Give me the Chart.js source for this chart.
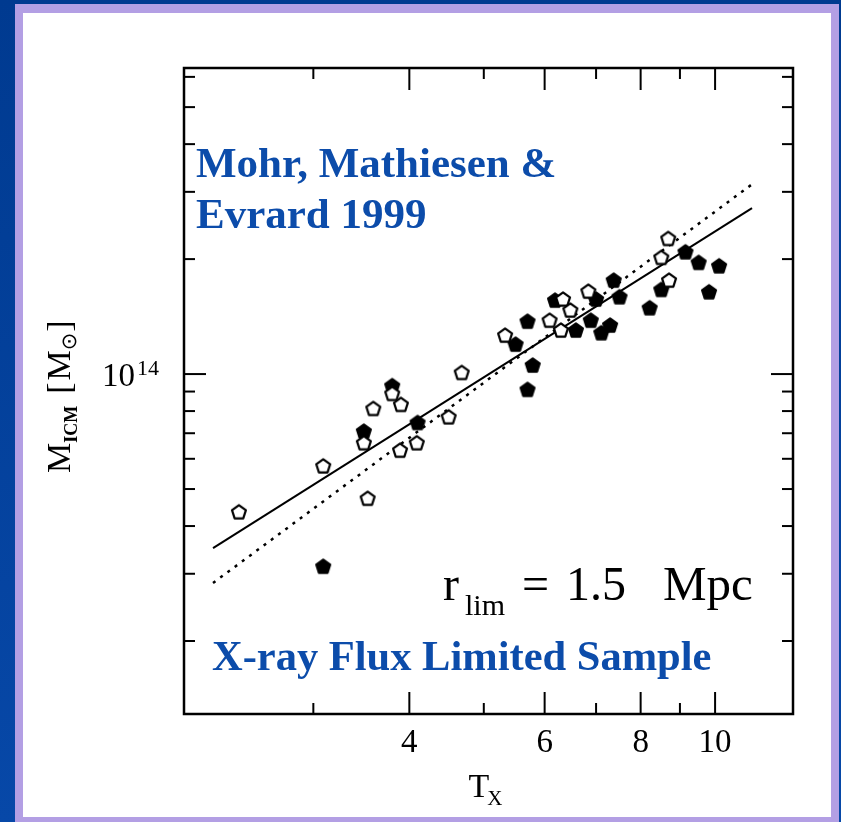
<!DOCTYPE html>
<html><head><meta charset="utf-8">
<script src="https://cdn.jsdelivr.net/npm/chart.js@4.4.0/dist/chart.umd.min.js"></script>
<style>
html,body{margin:0;padding:0;width:841px;height:822px;overflow:hidden;}
body{background:linear-gradient(180deg,#003a90 0%,#0748a8 100%);position:relative;}
#frame{position:absolute;left:15px;top:4px;width:808px;height:804px;background:#fff;border-style:solid;border-color:#b39fe4;border-width:9px 8px 5px 8px;}
#c{position:absolute;left:0;top:0;}
</style></head>
<body>
<div id="frame"></div>
<canvas id="c" width="841" height="822"></canvas>
<script>
// ---- data (T_X in keV, M_ICM in solar masses) ----
const openT  = [2.40, 3.09, 3.53, 3.49, 3.59, 3.80, 3.90, 3.89, 4.09, 4.50, 4.68, 5.33, 6.09, 6.30, 6.34, 6.48, 6.84, 8.71, 8.51, 8.69];
const openM  = [4.36e13, 5.75e13, 4.73e13, 6.61e13, 8.13e13, 8.90e13, 8.33e13, 6.32e13, 6.61e13, 7.73e13, 1.01e14, 1.265e14, 1.384e14, 1.304e14, 1.572e14, 1.471e14, 1.649e14, 1.762e14, 2.021e14, 2.266e14];
const filledT = [3.09, 3.49, 3.80, 4.10, 5.50, 5.70, 5.79, 5.70, 6.19, 6.59, 6.89, 7.00, 7.11, 7.30, 7.38, 7.51, 8.22, 8.51, 9.15, 9.52, 10.12, 9.82];
const filledM = [3.14e13, 7.09e13, 9.33e13, 7.47e13, 1.198e14, 1.376e14, 1.056e14, 9.12e13, 1.562e14, 1.304e14, 1.384e14, 1.572e14, 1.283e14, 1.344e14, 1.762e14, 1.594e14, 1.492e14, 1.666e14, 2.090e14, 1.961e14, 1.921e14, 1.642e14];
const fitT    = [2.221, 11.17];
const solidM  = [3.503e13, 2.72e14];
const dottedM = [2.838e13, 3.14e14];
const xRange = [2.036, 12.63];
const yRange = [1.288e13, 6.33e14];
const xLabelTicks = [4, 6, 8, 10];
const xMinorTicks = [3, 5, 7, 9];
const yMajorTicks = [1e14];
const yMinorTicks = [2e13, 3e13, 4e13, 5e13, 6e13, 7e13, 8e13, 9e13, 2e14, 3e14, 4e14, 5e14, 6e14];
const citeLines = ['Mohr, Mathiesen &', 'Evrard 1999'];
const sampleLabel = 'X-ray Flux Limited Sample';

function pentagon(filled){
  const s = 20, c = document.createElement('canvas'); c.width = s; c.height = s;
  const g = c.getContext('2d'); const r = 7.3, cx = s/2, cy = s/2 + 0.7;
  g.beginPath();
  for (let i = 0; i < 5; i++){ const a = -Math.PI/2 + i*2*Math.PI/5; g.lineTo(cx + r*Math.cos(a), cy + r*Math.sin(a)); }
  g.closePath();
  g.fillStyle = filled ? '#000' : '#fff'; g.fill();
  g.lineWidth = 2.2; g.strokeStyle = '#000'; g.lineJoin = 'round'; g.stroke();
  return c;
}
const openImg = pentagon(false), filledImg = pentagon(true);

const frameTicks = {
  id: 'frameTicks',
  afterDatasetsDraw(chart){
    const {ctx, chartArea: a, scales: {x, y}} = chart;
    ctx.save(); ctx.strokeStyle = '#000'; ctx.lineWidth = 2;
    const seg = (x1,y1,x2,y2)=>{ctx.beginPath();ctx.moveTo(x1,y1);ctx.lineTo(x2,y2);ctx.stroke();};
    const xt = (vals, len)=>vals.forEach(v=>{const p=x.getPixelForValue(v); seg(p,a.bottom,p,a.bottom-len); seg(p,a.top,p,a.top+len);});
    const yt = (vals, len)=>vals.forEach(v=>{const p=y.getPixelForValue(v); seg(a.left,p,a.left+len,p); seg(a.right,p,a.right-len,p);});
    xt(xLabelTicks, 22); xt(xMinorTicks, 11);
    yt(yMajorTicks, 22); yt(yMinorTicks, 11);
    ctx.lineWidth = 2.5;
    ctx.strokeRect(a.left, a.top, a.right - a.left, a.bottom - a.top);
    ctx.restore();
  }
};

const texts = {
  id: 'texts',
  afterDraw(chart){
    const {ctx, chartArea: a, scales: {x, y}} = chart;
    ctx.save();
    ctx.textAlign = 'left'; ctx.textBaseline = 'alphabetic';
    // blue annotations
    ctx.fillStyle = 'rgb(12,76,170)';
    ctx.font = 'bold 43px "Liberation Serif"';
    ctx.fillText(citeLines[0], 196, 177);
    ctx.fillText(citeLines[1], 196, 228);
    ctx.font = 'bold 42.5px "Liberation Serif"';
    ctx.fillText(sampleLabel, 212, 670);
    // r_lim = 1.5 Mpc
    ctx.fillStyle = '#000';
    ctx.font = '48px "Liberation Serif"';
    ctx.fillText('r', 443, 600);
    ctx.fillText('=', 522, 600);
    ctx.fillText('1.5', 566, 600);
    ctx.font = '49px "Liberation Serif"';
    ctx.fillText('Mpc', 663, 600);
    ctx.font = '30px "Liberation Serif"';
    ctx.fillText('lim', 465, 615);
    // y tick label 10^14
    const py = y.getPixelForValue(yMajorTicks[0]);
    ctx.font = '33px "Liberation Serif"';
    ctx.fillText('10', 102, py + 12);
    ctx.font = '22px "Liberation Serif"';
    ctx.fillText('14', 137, py + 1);
    // x title T_X
    const cx = (a.left + a.right) / 2;
    ctx.font = '34px "Liberation Serif"';
    const wT = ctx.measureText('T').width;
    ctx.fillText('T', cx - 20, 797);
    ctx.font = '21px "Liberation Serif"';
    ctx.fillText('X', cx - 20 + wT - 2, 805);
    // y title M_ICM [M_sun]
    ctx.translate(70, (a.top + a.bottom)/2 + 82);
    ctx.rotate(-Math.PI/2);
    let pos = 0;
    ctx.font = '34px "Liberation Serif"';
    ctx.fillText('M', pos, 0); pos += ctx.measureText('M').width;
    ctx.font = 'bold 18px "Liberation Serif"';
    ctx.fillText('ICM', pos, 7); pos += ctx.measureText('ICM').width + 12;
    ctx.font = '34px "Liberation Serif"';
    ctx.fillText('[', pos, 0); pos += ctx.measureText('[').width + 2;
    ctx.fillText('M', pos, 0); pos += ctx.measureText('M').width;
    ctx.font = '21px "DejaVu Sans"';
    ctx.fillText('\u2299', pos, 6); pos += ctx.measureText('\u2299').width + 1;
    ctx.font = '34px "Liberation Serif"';
    ctx.fillText(']', pos, 0);
    ctx.restore();
  }
};

new Chart(document.getElementById('c'), {
  type: 'scatter',
  data: {
    datasets: [
      {label: 'open', data: openT.map((t,i)=>({x:t, y:openM[i]})), pointStyle: openImg, pointRadius: 7},
      {label: 'filled', data: filledT.map((t,i)=>({x:t, y:filledM[i]})), pointStyle: filledImg, pointRadius: 7},
      {label: 'fit', data: fitT.map((t,i)=>({x:t, y:solidM[i]})), showLine: true, borderColor: '#000', borderWidth: 2, pointRadius: 0},
      {label: 'fit2', data: fitT.map((t,i)=>({x:t, y:dottedM[i]})), showLine: true, borderColor: '#000', borderWidth: 2.5, borderDash: [3, 6], pointRadius: 0}
    ]
  },
  options: {
    responsive: false, animation: false, devicePixelRatio: 1,
    layout: {padding: {top: 68, right: 48, left: 0, bottom: 0}},
    plugins: {legend: {display: false}, tooltip: {enabled: false}},
    scales: {
      x: {
        type: 'logarithmic', min: xRange[0], max: xRange[1], position: 'bottom',
        grid: {display: false, drawTicks: false}, border: {display: false},
        afterBuildTicks: s => { s.ticks = xLabelTicks.map(v => ({value: v})); },
        ticks: {callback: v => String(v), font: {family: 'Liberation Serif', size: 33}, color: '#000', padding: 10, maxRotation: 0, autoSkip: false},
        afterFit: s => { s.height = 108; }
      },
      y: {
        type: 'logarithmic', min: yRange[0], max: yRange[1],
        grid: {display: false, drawTicks: false}, border: {display: false},
        ticks: {display: false},
        afterFit: s => { s.width = 184; }
      }
    }
  },
  plugins: [frameTicks, texts]
});
</script>
</body></html>
